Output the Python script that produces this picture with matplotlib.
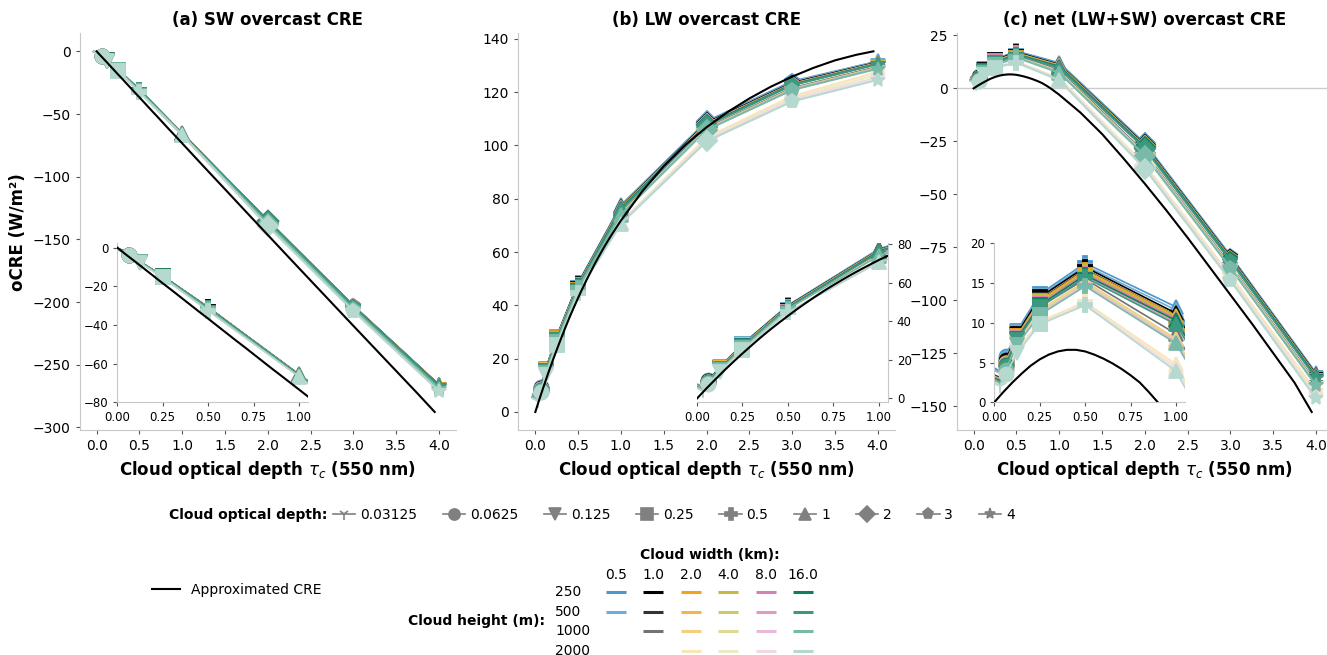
import matplotlib.pyplot as plt
from matplotlib.colors import to_rgb
from matplotlib.lines import Line2D

# cloud optical depths simulated (x values) and the marker used for each
tau = [0.03125, 0.0625, 0.125, 0.25, 0.5, 1, 2, 3, 4]
tau_labels = ['0.03125', '0.0625', '0.125', '0.25', '0.5', '1', '2', '3', '4']
tau_markers = ['1', 'o', 'v', 's', 'P', '^', 'D', 'p', '*']

heights = [250, 500, 1000, 2000]
widths = [0.5, 1.0, 2.0, 4.0, 8.0, 16.0]
width_colors = ['#4d97cb', '#000000', '#efa518', '#c6b93c', '#d681b3', '#0b7f5f']
# how strongly the width colour shows for each height (rest is white)
height_shade = [1.0, 0.8, 0.55, 0.3]

# widths available for every cloud height
widths_250 = [0.5, 1.0, 2.0, 4.0, 8.0, 16.0]
widths_500 = [0.5, 1.0, 2.0, 4.0, 8.0, 16.0]
widths_1000 = [1.0, 2.0, 4.0, 8.0, 16.0]
widths_2000 = [2.0, 4.0, 8.0, 16.0]

# SW overcast CRE (W/m2), one row per cloud width
sw_250 = [
    [-1.9, -3.6, -7.2, -14.6, -30.8, -65.5, -135.0, -203.0, -266.0],
    [-1.9, -3.7, -7.3, -14.7, -30.9, -65.7, -135.2, -203.2, -266.3],
    [-1.9, -3.7, -7.3, -14.8, -31.0, -65.8, -135.3, -203.3, -266.5],
    [-1.9, -3.7, -7.3, -14.8, -31.0, -65.9, -135.4, -203.4, -266.6],
    [-1.9, -3.7, -7.3, -14.8, -31.1, -65.9, -135.5, -203.5, -266.7],
    [-1.9, -3.7, -7.3, -14.8, -31.1, -66.0, -135.5, -203.6, -266.8],
]
sw_500 = [
    [-1.9, -3.7, -7.3, -14.7, -30.9, -65.7, -135.3, -203.4, -266.5],
    [-1.9, -3.7, -7.3, -14.8, -31.0, -65.9, -135.5, -203.6, -266.8],
    [-1.9, -3.7, -7.4, -14.9, -31.1, -66.0, -135.6, -203.7, -267.0],
    [-1.9, -3.7, -7.4, -14.9, -31.1, -66.0, -135.7, -203.8, -267.1],
    [-1.9, -3.7, -7.4, -14.9, -31.2, -66.1, -135.8, -203.9, -267.2],
    [-1.9, -3.7, -7.4, -14.9, -31.2, -66.1, -135.8, -204.0, -267.3],
]
sw_1000 = [
    [-2.0, -3.8, -7.4, -15.0, -31.6, -66.3, -137.0, -205.0, -268.5],
    [-2.0, -3.8, -7.5, -15.0, -31.7, -66.4, -137.2, -205.2, -268.7],
    [-2.0, -3.8, -7.5, -15.1, -31.7, -66.5, -137.3, -205.3, -268.8],
    [-2.0, -3.8, -7.5, -15.1, -31.8, -66.5, -137.4, -205.4, -268.9],
    [-2.0, -3.8, -7.5, -15.1, -31.8, -66.6, -137.5, -205.5, -269.0],
]
sw_2000 = [
    [-2.0, -3.9, -7.6, -15.3, -32.4, -66.4, -139.0, -206.8, -270.5],
    [-2.0, -3.9, -7.6, -15.3, -32.5, -66.5, -139.2, -207.0, -270.7],
    [-2.0, -3.9, -7.7, -15.4, -32.5, -66.6, -139.3, -207.1, -270.9],
    [-2.0, -3.9, -7.7, -15.4, -32.6, -66.7, -139.4, -207.2, -271.0],
]

# LW overcast CRE (W/m2)
lw_250 = [
    [5.8, 9.4, 16.2, 28.2, 48.3, 77.5, 109.0, 124.0, 131.5],
    [5.0, 9.0, 15.9, 27.9, 47.9, 76.9, 108.4, 123.4, 131.1],
    [4.8, 8.7, 15.6, 27.6, 47.6, 76.7, 108.1, 123.1, 130.9],
    [4.7, 8.6, 15.5, 27.4, 47.4, 76.6, 108.0, 123.0, 130.8],
    [4.7, 8.5, 15.4, 27.2, 47.3, 76.4, 107.9, 122.9, 130.7],
    [4.6, 8.4, 15.3, 27.0, 47.1, 76.3, 107.7, 122.8, 130.6],
]
lw_500 = [
    [5.6, 9.3, 16.1, 28.1, 48.1, 77.3, 108.7, 123.8, 131.5],
    [4.9, 8.8, 15.7, 27.7, 47.7, 76.8, 108.1, 123.2, 131.0],
    [4.7, 8.6, 15.6, 27.5, 47.4, 76.5, 107.8, 122.9, 130.8],
    [4.6, 8.5, 15.4, 27.3, 47.2, 76.2, 107.7, 122.8, 130.7],
    [4.6, 8.4, 15.3, 27.1, 47.1, 76.1, 107.6, 122.7, 130.6],
    [4.5, 8.3, 15.2, 26.9, 46.9, 75.9, 107.4, 122.6, 130.5],
]
lw_1000 = [
    [4.7, 8.4, 15.2, 27.0, 47.1, 74.9, 106.5, 121.5, 129.5],
    [4.6, 8.2, 15.1, 26.6, 46.9, 74.4, 106.2, 121.2, 129.2],
    [4.5, 8.1, 14.9, 26.5, 46.7, 74.3, 106.0, 121.0, 129.0],
    [4.4, 8.0, 14.8, 26.3, 46.6, 74.1, 105.9, 120.9, 128.9],
    [4.4, 7.9, 14.7, 26.1, 46.4, 74.0, 105.8, 120.8, 128.8],
]
lw_2000 = [
    [4.3, 7.8, 14.2, 25.5, 45.0, 71.2, 103.0, 118.5, 127.5],
    [4.2, 7.6, 14.0, 25.3, 44.9, 71.0, 102.5, 117.8, 126.5],
    [4.1, 7.5, 14.0, 25.3, 44.8, 70.8, 102.0, 117.2, 125.5],
    [4.1, 7.4, 13.9, 25.2, 44.8, 70.6, 101.5, 116.5, 124.6],
]

# approximated CRE curves
approx_tau = [0, 0.05, 0.1, 0.15, 0.2, 0.25, 0.3, 0.35, 0.4, 0.45, 0.5, 0.55,
              0.6, 0.65, 0.7, 0.75, 0.8, 0.85, 0.9, 1.0, 1.25, 1.5, 1.75, 2.0,
              2.25, 2.5, 2.75, 3.0, 3.25, 3.5, 3.75, 3.95]
sw_approx = [0, -3.7, -7.3, -11.0, -14.7, -18.4, -22.0, -25.7, -29.4, -33.1,
             -36.7, -40.4, -44.1, -47.8, -51.4, -55.1, -58.8, -62.5, -66.1,
             -73.4, -91.8, -110.0, -128.3, -146.5, -164.7, -182.8, -200.9,
             -219.0, -237.0, -255.0, -273.0, -287.7]
lw_approx = [0, 5.0, 9.8, 14.5, 19.0, 23.3, 27.5, 31.6, 35.5, 39.2, 42.8, 46.3,
             49.6, 52.8, 55.9, 58.8, 61.6, 64.3, 66.9, 71.8, 82.8, 92.2, 100.1,
             106.8, 112.6, 117.6, 122.0, 125.8, 129.1, 131.9, 134.0, 135.3]
net_approx = [0, 1.3, 2.5, 3.6, 4.6, 5.4, 6.0, 6.4, 6.6, 6.6, 6.4, 6.0, 5.5,
              4.9, 4.2, 3.4, 2.5, 1.3, 0.0, -3.0, -11.5, -21.5, -33.0, -45.0,
              -57.5, -70.5, -84.0, -97.5, -111.0, -125.0, -139.0, -152.8]

all_widths = [widths_250, widths_500, widths_1000, widths_2000]
all_sw = [sw_250, sw_500, sw_1000, sw_2000]
all_lw = [lw_250, lw_500, lw_1000, lw_2000]


def shade(color, s):
    r, g, b = to_rgb(color)
    return (1 - s + s * r, 1 - s + s * g, 1 - s + s * b)


W, H = 1327, 655
fig = plt.figure(figsize=(W / 100, H / 100), dpi=100)

main_rects = [[79.5 / W, 1 - 430 / H, 376.6 / W, 396.7 / H],
              [518.2 / W, 1 - 430 / H, 376.6 / W, 396.7 / H],
              [956.5 / W, 1 - 430 / H, 376.6 / W, 396.7 / H]]
inset_rects = [[117.3 / W, 1 - 402.3 / H, 190.8 / W, 159 / H],
               [697.0 / W, 1 - 402.3 / H, 190.8 / W, 159 / H],
               [994.3 / W, 1 - 402.3 / H, 190.8 / W, 159 / H]]
titles = ['(a) SW overcast CRE', '(b) LW overcast CRE', '(c) net (LW+SW) overcast CRE']
spine_grey = '#c8c8c8'


def draw_panel(ax, kind, lw, ms):
    # widths outer, heights inner: the light greens end up on top
    for w_j, w in enumerate(widths):
        for h_i, ws in enumerate(all_widths):
            if w not in ws:
                continue
            k = ws.index(w)
            sw = all_sw[h_i][k]
            lwv = all_lw[h_i][k]
            if kind == 'sw':
                vals = sw
            elif kind == 'lw':
                vals = lwv
            else:
                vals = [a + b for a, b in zip(sw, lwv)]
            color = shade(width_colors[w_j], height_shade[h_i])
            ax.plot(tau, vals, color=color, lw=lw)
            for t, v, m in zip(tau, vals, tau_markers):
                ax.plot(t, v, ls='none', marker=m, color=color, ms=ms, mew=1.3)
    approx = {'sw': sw_approx, 'lw': lw_approx, 'net': net_approx}[kind]
    ax.plot(approx_tau, approx, color='black', lw=1.5, zorder=5)


for i, kind in enumerate(['sw', 'lw', 'net']):
    ax = fig.add_axes(main_rects[i])
    if kind == 'net':
        ax.axhline(0, color='#cccccc', lw=1, zorder=0)
    draw_panel(ax, kind, 1.5, 10)
    ax.set_title(titles[i], fontsize=12, fontweight='bold')
    ax.set_xlabel(r'Cloud optical depth $\tau_c$ (550 nm)', fontsize=12, fontweight='bold')
    ax.set_xticks([0, 0.5, 1, 1.5, 2, 2.5, 3, 3.5, 4])
    ax.tick_params(labelsize=10, color='#555555', length=3)
    for s in ['top', 'right']:
        ax.spines[s].set_visible(False)
    for s in ['left', 'bottom']:
        ax.spines[s].set_color(spine_grey)
    if kind == 'sw':
        ax.set_ylabel('oCRE (W/m²)', fontsize=12, fontweight='bold')
        ax.set_yticks(range(-300, 1, 50))
    elif kind == 'lw':
        ax.set_yticks(range(0, 141, 20))
    else:
        ax.set_yticks(range(-150, 26, 25))

    ins = fig.add_axes(inset_rects[i])
    ins.patch.set_alpha(0)
    draw_panel(ins, kind, 1.2, 10)
    ins.set_xlim(0, 1.05)
    ins.set_xticks([0, 0.25, 0.5, 0.75, 1.0])
    ins.tick_params(labelsize=8.5, color='#555555', length=3)
    ins.spines['top'].set_visible(False)
    ins.spines['bottom'].set_color(spine_grey)
    if kind == 'lw':
        ins.set_ylim(-2, 80.5)
        ins.set_yticks([0, 20, 40, 60, 80])
        ins.yaxis.tick_right()
        ins.spines['left'].set_visible(False)
        ins.spines['right'].set_color(spine_grey)
    else:
        ins.spines['right'].set_visible(False)
        ins.spines['left'].set_color(spine_grey)
        if kind == 'sw':
            ins.set_ylim(-80, 2.3)
            ins.set_yticks([-80, -60, -40, -20, 0])
        else:
            ins.set_ylim(0, 20)
            ins.set_yticks([0, 5, 10, 15, 20])

# optical depth marker legend
marker_handles = [Line2D([], [], color='grey', marker=m, ms=8, lw=1.2, mew=1.2)
                  for m in tau_markers]
fig.text(327 / W, 1 - 515 / H, 'Cloud optical depth:', ha='right', va='center',
         fontsize=10, fontweight='bold')
fig.legend(marker_handles, tau_labels, loc='center left',
           bbox_to_anchor=(333 / W, 1 - 515 / H), ncol=9, frameon=False,
           fontsize=10, borderpad=0, borderaxespad=0, handlelength=1.6,
           handletextpad=0.35, columnspacing=1.85)

# approximated CRE legend
fig.legend([Line2D([], [], color='black', lw=1.5)], ['Approximated CRE'],
           loc='center left', bbox_to_anchor=(152 / W, 1 - 590 / H),
           frameon=False, fontsize=10, borderpad=0, borderaxespad=0)

# colour / height grid legend
lax = fig.add_axes([597.3 / W, 1 - 660.8 / H, 224.4 / W, 78.6 / H])
lax.set_xlim(-0.5, len(widths) - 0.5)
lax.set_ylim(len(heights) - 0.5, -0.5)
lax.axis('off')
for h_i, ws in enumerate(all_widths):
    for w in ws:
        j = widths.index(w)
        lax.plot([j - 0.27, j + 0.27], [h_i, h_i],
                 color=shade(width_colors[j], height_shade[h_i]),
                 lw=2.2, clip_on=False, solid_capstyle='butt')
for j, w in enumerate(widths):
    lax.text(j, -0.87, str(w), ha='center', va='center', fontsize=10)
for h_i, h in enumerate(heights):
    lax.text(-1.63, h_i, str(h), ha='left', va='center', fontsize=10)
lax.text(2.5, -1.9, 'Cloud width (km):', ha='center', va='center',
         fontsize=10, fontweight='bold')
lax.text(-1.9, 1.5, 'Cloud height (m):', ha='right', va='center',
         fontsize=10, fontweight='bold')

fig.savefig('out.png', dpi=100)
